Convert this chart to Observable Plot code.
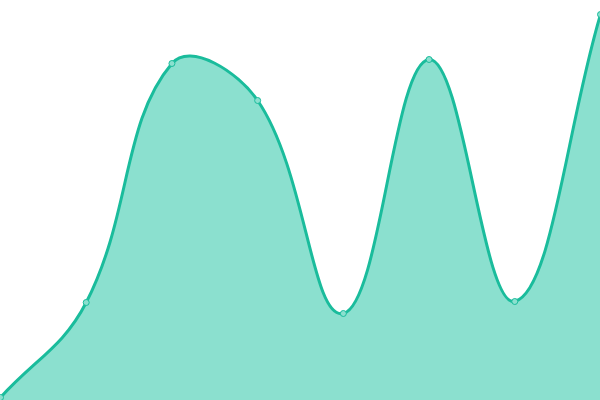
<!DOCTYPE html>
<html><head><meta charset="utf-8">
<script src="https://cdn.jsdelivr.net/npm/d3@7"></script>
<script src="https://cdn.jsdelivr.net/npm/@observablehq/plot@0.6"></script>
<style>body{margin:0;background:#fff}</style>
</head><body><div id="chart"></div>
<script>
const indices = [0, 1, 2, 3, 4, 5, 6, 7];
const values = [3, 98, 337, 300, 87, 341, 99, 386];
const data = indices.map((i) => ({i, v: values[i]}));

// Spline with distance-weighted control points (tension 0.4), control points clamped to the plot area
function splineCurve(context) {
  const T = 0.4, W = 600, H = 400;
  const clampX = (x) => Math.max(0, Math.min(W, x));
  const clampY = (y) => Math.max(0, Math.min(H, y));
  return {
    _line: NaN, _pts: [],
    areaStart() { this._line = 0; },
    areaEnd() { this._line = NaN; },
    lineStart() { this._pts = []; },
    point(x, y) { this._pts.push([+x, +y]); },
    lineEnd() {
      const p = this._pts, n = p.length;
      if (n) {
        if (this._line) context.lineTo(p[0][0], p[0][1]); else context.moveTo(p[0][0], p[0][1]);
        const cpA = [], cpB = [];
        for (let i = 0; i < n; i++) {
          const prev = p[i - 1] || p[i], cur = p[i], next = p[i + 1] || p[i];
          const d01 = Math.hypot(cur[0] - prev[0], cur[1] - prev[1]);
          const d12 = Math.hypot(next[0] - cur[0], next[1] - cur[1]);
          let s01 = d01 / (d01 + d12), s12 = d12 / (d01 + d12);
          if (!isFinite(s01)) s01 = 0; if (!isFinite(s12)) s12 = 0;
          const fa = T * s01, fb = T * s12;
          cpA.push([clampX(cur[0] - fa * (next[0] - prev[0])), clampY(cur[1] - fa * (next[1] - prev[1]))]);
          cpB.push([clampX(cur[0] + fb * (next[0] - prev[0])), clampY(cur[1] + fb * (next[1] - prev[1]))]);
        }
        for (let i = 0; i < n - 1; i++) {
          context.bezierCurveTo(cpB[i][0], cpB[i][1], cpA[i + 1][0], cpA[i + 1][1], p[i + 1][0], p[i + 1][1]);
        }
      }
      if (this._line || (this._line !== 0 && n === 1)) context.closePath();
      this._line = 1 - this._line;
    }
  };
}

const chart = Plot.plot({
  width: 600, height: 400,
  margin: 0,
  x: {domain: [0, 7], range: [0, 600], axis: null},
  y: {domain: [0, 400], range: [400, 0], axis: null},
  marks: [
    Plot.areaY(data, {x: "i", y: "v", curve: splineCurve, fill: "#8be0cf"}),
    Plot.lineY(data, {x: "i", y: "v", curve: splineCurve, stroke: "#1abc9c", strokeWidth: 3}),
    Plot.dot(data, {x: "i", y: "v", r: 3, fill: "#8be0cf", stroke: "#1abc9c", strokeWidth: 1})
  ],
  style: {overflow: "visible"}
});
document.getElementById("chart").append(chart);
</script></body></html>
